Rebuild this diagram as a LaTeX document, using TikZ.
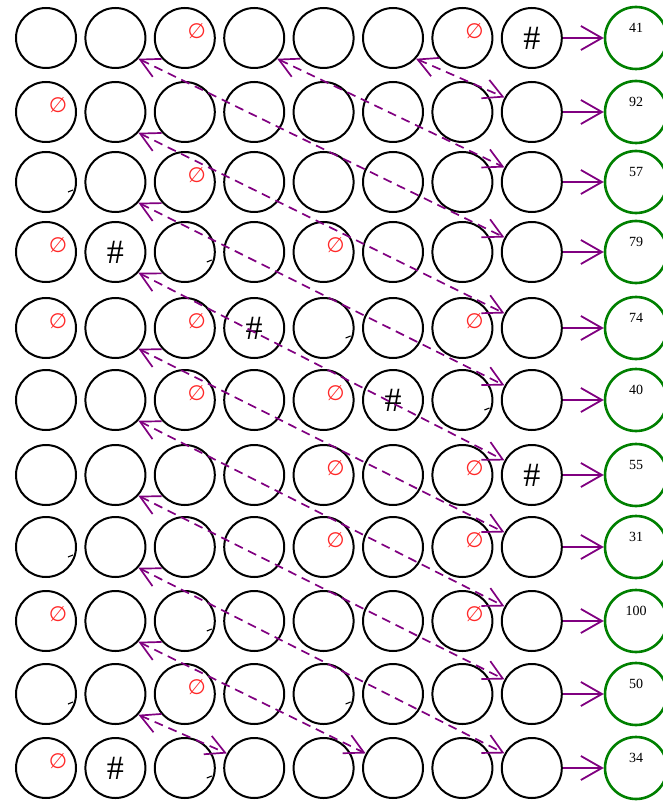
\documentclass[tikz,border=0pt]{standalone}
\usepackage{fontspec}
\setmainfont{Liberation Serif}
\newfontfamily\markfont{DejaVu Sans}
\usetikzlibrary{positioning,arrows.meta}
\definecolor{edgepurple}{RGB}{128,0,128}
\definecolor{sumgreen}{RGB}{0,128,0}
\definecolor{nullred}{RGB}{255,40,40}

\begin{document}
\begin{tikzpicture}[
  x=1pt, y=-1pt,
  cell/.style={draw, circle, line width=2pt, minimum size=60pt, inner sep=0pt},
  total/.style={draw=sumgreen, circle, line width=2.6pt, minimum size=62pt, inner sep=0pt},
  sumnum/.style={font=\fontsize{14}{14}\selectfont, yshift=10pt, inner sep=0pt},
  nullmark/.style={text=nullred, font=\markfont\fontsize{21}{21}\selectfont, inner sep=0pt},
  hashmark/.style={font=\fontsize{34}{34}\selectfont, inner sep=0pt},
  tickmark/.style={line width=1.1pt},
  feed/.style={edgepurple, line width=1.8pt, -{Straight Barb[length=21pt,width=24pt]}},
  link/.style={edgepurple, line width=1.7pt, dash pattern=on 9pt off 6pt,
    {Straight Barb[length=19pt,width=20pt]}-{Straight Barb[length=19pt,width=20pt]}}
]
  \useasboundingbox (0,0) rectangle (662,802);

  \foreach \y/\total [count=\r] in {38/41,112/92,182/57,252/79,328/74,400/40,475/55,547/31,621/100,694/50,768/34} {
    \foreach \c in {1,...,8}
      \node[cell] (r\r c\c) at ({46+69.4*(\c-1)},\y) {};
    \node[total, label={[sumnum]center:\total}] (s\r) at (636,\y) {};
    \draw[feed] (r\r c8) -- (s\r);
  }

  \foreach \r/\c in {1/3,1/7,2/1,3/3,4/1,4/5,5/1,5/3,5/7,6/3,6/5,7/5,7/7,8/5,8/7,9/1,9/7,10/3,11/1}
    \node[nullmark] (z\r c\c) at ([shift={(12,-7)}]r\r c\c.center) {∅};

  \foreach \r/\c in {1/8,4/2,5/4,6/6,7/8,11/2}
    \node[hashmark] (h\r c\c) at (r\r c\c) {\#};

  \foreach \r/\c in {3/1,4/3,5/5,6/7,8/1,9/3,10/1,10/5,11/3}
    \draw[tickmark] ([shift={(22,10)}]r\r c\c.center) -- ++(5,-2);

  \foreach \a/\b in {r1c2/r4c8,r1c4/r3c8,r1c6/r2c8,r2c2/r5c8,r3c2/r6c8,r4c2/r7c8,
    r5c2/r8c8,r6c2/r9c8,r7c2/r10c8,r8c2/r11c8,r9c2/r11c6,r10c2/r11c4}
    \draw[link] (\a.-42) -- (\b.152);
\end{tikzpicture}
\end{document}
